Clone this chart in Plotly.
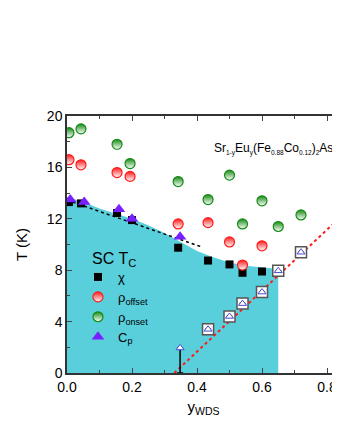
import plotly.graph_objects as go

# ---- data ----
fill_y = [0.0, 0.05, 0.10, 0.15, 0.20, 0.25, 0.30, 0.35, 0.40, 0.45, 0.50, 0.55, 0.60, 0.65]
fill_T = [13.7, 13.3, 12.8, 12.4, 12.0, 11.5, 10.9, 10.2, 9.5, 9.0, 8.6, 8.35, 8.2, 8.1]

chi_y = [0.006, 0.043, 0.154, 0.20, 0.342, 0.434, 0.50, 0.54, 0.60]
chi_T = [13.3, 13.2, 12.45, 11.9, 9.75, 8.75, 8.45, 7.8, 7.9]

roff_y = [0.006, 0.043, 0.154, 0.194, 0.342, 0.434, 0.50, 0.54, 0.60]
roff_T = [16.6, 16.2, 15.6, 15.3, 11.6, 11.7, 10.2, 8.4, 9.9]

ron_y = [0.006, 0.043, 0.154, 0.194, 0.342, 0.434, 0.50, 0.54, 0.60, 0.65, 0.72]
ron_T = [18.7, 19.0, 17.8, 16.3, 14.9, 13.5, 15.4, 11.6, 13.4, 11.4, 12.3]

cp_y = [0.01, 0.053, 0.16, 0.20, 0.348]
cp_T = [13.5, 13.3, 12.75, 12.0, 10.6]

tn_sq_y = [0.434, 0.50, 0.54, 0.60, 0.65, 0.72]
tn_sq_T = [3.4, 4.4, 5.4, 6.3, 7.95, 9.4]

tn_tri_y = [0.348, 0.434, 0.50, 0.54, 0.60, 0.65, 0.72]
tn_tri_T = [1.95, 3.4, 4.4, 5.4, 6.3, 7.95, 9.4]
tn_err_minus = [1.95, 0, 0, 0, 0, 0, 0]

blackfit_y = [0.0, 0.41]
blackfit_T = [13.45, 9.85]

redfit_y = [0.33, 0.84]
redfit_T = [0.0, 12.1]

FONT = "Arial, Liberation Sans, sans-serif"
RED = "#ff1a1a"
GREEN = "#158a15"
PURPLE = "#7a1fff"
CYAN = "#58CFDB"

fig = go.Figure()

fig.add_trace(go.Scatter(x=fill_y, y=fill_T, mode="lines", fill="tozeroy",
                         fillcolor=CYAN, line=dict(width=0, color=CYAN),
                         showlegend=False, hoverinfo="skip"))

fig.add_trace(go.Scatter(x=blackfit_y, y=blackfit_T, mode="lines",
                         line=dict(color="black", width=1.5, dash="dot"),
                         showlegend=False))
fig.add_trace(go.Scatter(x=redfit_y, y=redfit_T, mode="lines",
                         line=dict(color=RED, width=2, dash="dot"),
                         showlegend=False))

fig.add_trace(go.Scatter(x=tn_sq_y, y=tn_sq_T, mode="markers",
                         marker=dict(symbol="square", size=11, color="white",
                                     line=dict(color="#555555", width=1.5)),
                         showlegend=False))
fig.add_trace(go.Scatter(x=tn_tri_y, y=tn_tri_T, mode="markers",
                         marker=dict(symbol="triangle-up", size=7, color="white",
                                     line=dict(color="#4a4ad0", width=1)),
                         error_y=dict(type="data", symmetric=False,
                                      array=[0] * len(tn_tri_y),
                                      arrayminus=tn_err_minus,
                                      color="black", thickness=1.5, width=3),
                         showlegend=False))

fig.add_trace(go.Scatter(x=chi_y, y=chi_T, mode="markers", name="χ",
                         marker=dict(symbol="square", size=8, color="black")))


def half_circle(xs, ys, color, name):
    fig.add_trace(go.Scatter(x=xs, y=ys, mode="markers", name=name,
                             marker=dict(symbol="circle", size=10, color=color,
                                         gradient=dict(type="vertical", color="white"),
                                         line=dict(color=color, width=1.2))))


half_circle(roff_y, roff_T, RED, "ρ<sub>offset</sub>")
half_circle(ron_y, ron_T, GREEN, "ρ<sub>onset</sub>")

fig.add_trace(go.Scatter(x=cp_y, y=cp_T, mode="markers", name="C<sub>p</sub>",
                         marker=dict(symbol="triangle-up", size=11, color=PURPLE)))


def sb(t):
    return "<sub><span style='font-size:6.5px'>" + t + "</span></sub>"


fig.add_annotation(xref="paper", yref="paper", x=(212 - 67) / 273, y=(373 - 149) / 257,
                   xanchor="left", yanchor="middle", showarrow=False,
                   text="Sr" + sb("1-y") + "Eu" + sb("y") + "(Fe" + sb("0.88") + "Co"
                        + sb("0.12") + ")" + sb("2") + "As" + sb("2"),
                   font=dict(family=FONT, size=12, color="black"))
fig.add_annotation(xref="paper", yref="paper", x=(90 - 67) / 273, y=(373 - 259) / 257,
                   xanchor="left", yanchor="middle", showarrow=False,
                   text="SC T<sub>C</sub>",
                   font=dict(family=FONT, size=16, color="black"))

# the page puts the figure at (8, 8) in the window
fig.update_layout(
    width=332, height=432,
    margin=dict(l=59, r=0, t=108, b=67, autoexpand=False),
    paper_bgcolor="white", plot_bgcolor="white",
    font=dict(family=FONT, size=14, color="black"),
    legend=dict(x=(78 - 67) / 273, y=(373 - 262) / 257, xanchor="left", yanchor="top",
                bgcolor="rgba(0,0,0,0)", font=dict(size=13), tracegroupgap=0),
    xaxis=dict(range=[0, 0.84], dtick=0.2, tick0=0, tickformat=".1f",
               ticks="inside", ticklen=5, showline=True, linecolor="#333",
               linewidth=1.5, mirror="ticks", showgrid=False, zeroline=False,
               automargin=False,
               minor=dict(dtick=0.1, ticks="inside", ticklen=3),
               title=dict(text="y<sub>WDS</sub>", standoff=8, font=dict(size=15)),
               tickfont=dict(size=14)),
    yaxis=dict(range=[0, 20], dtick=4, ticks="inside", ticklen=5,
               showline=True, linecolor="#333", linewidth=1.5, mirror=False,
               showgrid=False, zeroline=False, automargin=False,
               minor=dict(dtick=2, ticks="inside", ticklen=3),
               title=dict(text="T (K)", standoff=16, font=dict(size=15)),
               tickfont=dict(size=14)),
)

fig.write_html("out.html")
